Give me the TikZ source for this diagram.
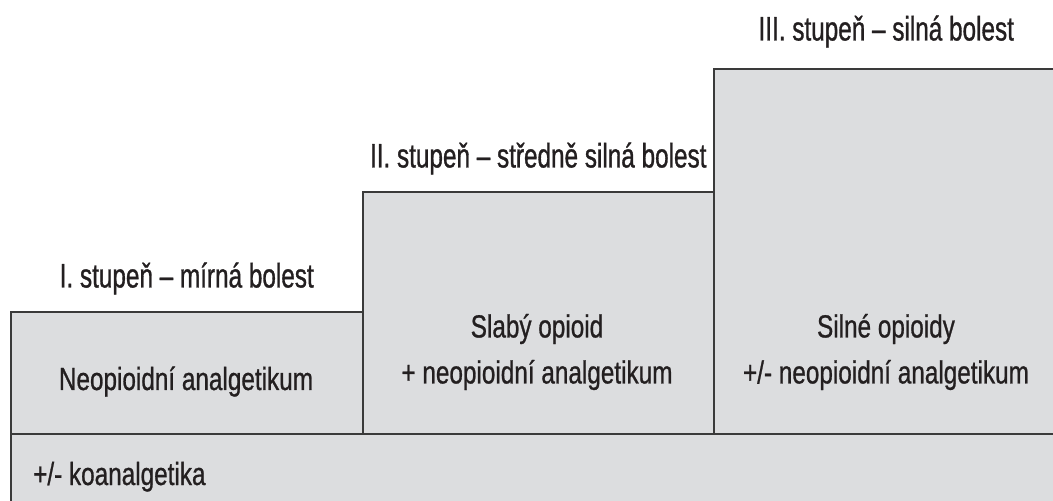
\documentclass[tikz,border=0pt]{standalone}
\usepackage{fontspec}
\setmainfont{Liberation Sans}
\newfontfamily\stepfont{Liberation Sans}[FakeStretch=0.76, FakeBold=0.8]
\newfontfamily\headfont{Liberation Sans}[FakeStretch=0.715, FakeBold=0.9]
\usepackage{tikz}
\usetikzlibrary{positioning}
\definecolor{ld-fill}{HTML}{DCDDDF}
\definecolor{ld-line}{HTML}{3A3A3A}
\definecolor{ld-text}{HTML}{231F20}
\tikzset{
  stepbox/.style={draw=ld-line, fill=ld-fill, line width=1.5pt, rectangle, anchor=south west, inner sep=0pt},
  steptext/.style={ld-text, inner sep=0pt, align=center, font=\stepfont\fontsize{32}{46}\selectfont},
  headtext/.style={ld-text, inner sep=0pt, font=\headfont\fontsize{34}{40}\selectfont}
}

\begin{document}
\begin{tikzpicture}[x=1pt, y=1pt]
    \useasboundingbox (0,0) rectangle (1053,501);
    \clip (0,0) rectangle (1053,501);
    % base bar and the three steps
    \node[stepbox, minimum width=1060pt, minimum height=72pt] (base) at (10,-6) {};
    \node[stepbox, minimum width=352pt, minimum height=122pt] (st1) at (10,66) {};
    \node[stepbox, minimum width=351pt, minimum height=242pt] (st2) at (362,66) {};
    \node[stepbox, minimum width=345pt, minimum height=365pt] (st3) at (713,66) {};
    % texts in the boxes
    \node[steptext, anchor=base] (t1) at (186,111) {Neopioidní analgetikum};
    \node[steptext] (t2) at (537,149) {Slabý opioid\\+ neopioidní analgetikum};
    \node[steptext] (t3) at (886,149) {Silné opioidy\\+/- neopioidní analgetikum};
    \node[steptext, anchor=base west] (ko) at (33,16) {+/- koanalgetika};
    % step headings
    \node[headtext, above=24pt of st1.north, anchor=base] (h1) {I. stupeň – mírná bolest};
    \node[headtext, above=24pt of st2.north, anchor=base] (h2) {II. stupeň – středně silná bolest};
    \node[headtext, above=28pt of st3.north, anchor=base] (h3) {III. stupeň – silná bolest};
\end{tikzpicture}
\end{document}
